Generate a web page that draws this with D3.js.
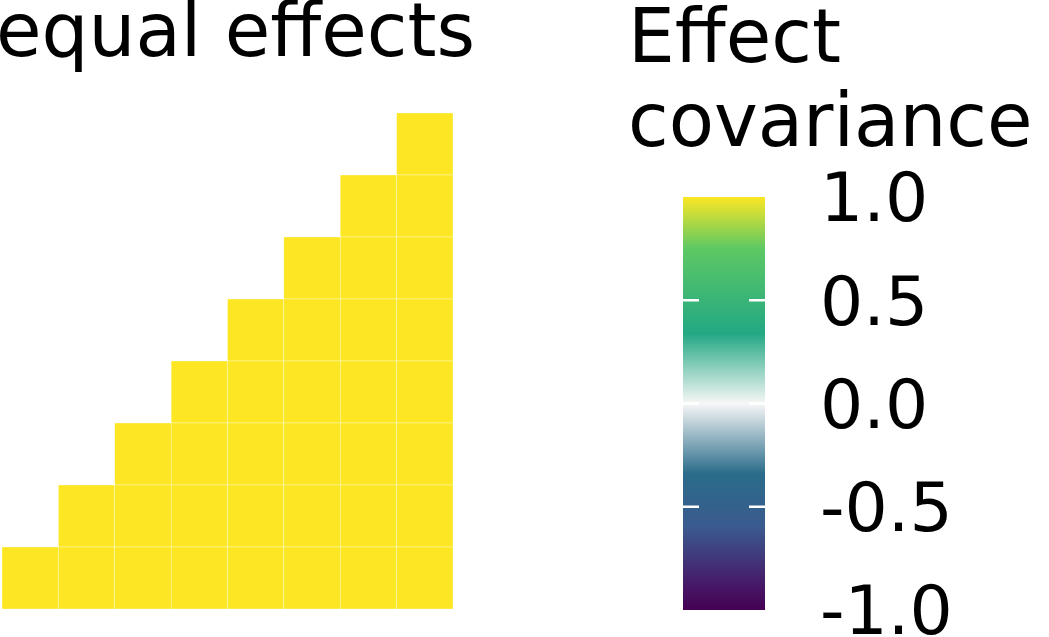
<!DOCTYPE html>
<html><head><meta charset="utf-8">
<script src="https://cdn.jsdelivr.net/npm/d3@7"></script>
<style>body{margin:0;background:#fff}text{font-family:"DejaVu Sans",sans-serif}</style>
</head><body>
<script>
// data: 8 traits, lower triangle, all effects equal
var traits = [1,2,3,4,5,6,7,8];
var covValues = [
  [1],[1,1],[1,1,1],[1,1,1,1],[1,1,1,1,1],[1,1,1,1,1,1],[1,1,1,1,1,1,1],[1,1,1,1,1,1,1,1]
];
var legendTicks = [1.0, 0.5, 0.0, -0.5, -1.0];
var gradStops = [-1, -0.9, -0.6, -0.34, 0, 0.34, 0.75, 1];
var gradColors = ["#440154","#471463","#3B5A8E","#2A6C8A","#F7F7F7","#22A884","#5DC863","#FDE725"];

var W = 1049, H = 637;
var svg = d3.select("body").append("svg").attr("width", W).attr("height", H);

var x = d3.scaleBand().domain(traits).range([2, 453]);
var y = d3.scaleBand().domain(traits).range([113, 609]);
var color = d3.scaleLinear().domain(gradStops).range(gradColors).clamp(true);

var cells = [];
covValues.forEach(function(col, i){
  col.forEach(function(v, k){
    cells.push({col: traits[i], row: traits[8 - col.length + k], v: v});
  });
});
svg.append("g").selectAll("rect").data(cells).enter().append("rect")
  .attr("x", function(d){return x(d.col)})
  .attr("y", function(d){return y(d.row)})
  .attr("width", x.bandwidth()).attr("height", y.bandwidth())
  .attr("fill", function(d){return color(d.v)})
  .attr("stroke", "#fff").attr("stroke-width", 0.3);

svg.append("text").attr("x", -4).attr("y", 56).attr("font-size", 74).text("equal effects");

// legend
svg.append("text").attr("x", 628).attr("y", 62).attr("font-size", 74).text("Effect");
svg.append("text").attr("x", 628).attr("y", 146).attr("font-size", 74).text("covariance");

var ly = d3.scaleLinear().domain([-1, 1]).range([610, 197]);
var defs = svg.append("defs");
var grad = defs.append("linearGradient").attr("id", "cb")
  .attr("x1", 0).attr("y1", 1).attr("x2", 0).attr("y2", 0);
gradStops.forEach(function(s, i){
  grad.append("stop").attr("offset", (s + 1) / 2).attr("stop-color", gradColors[i]);
});
svg.append("rect").attr("x", 683).attr("y", ly(1)).attr("width", 82)
  .attr("height", ly(-1) - ly(1)).attr("fill", "url(#cb)");

var lg = svg.append("g");
legendTicks.forEach(function(t){
  if (Math.abs(t) < 1) {
    lg.append("line").attr("x1", 683).attr("x2", 699).attr("y1", ly(t)).attr("y2", ly(t))
      .attr("stroke", "#fff").attr("stroke-width", 2.5);
    lg.append("line").attr("x1", 749).attr("x2", 765).attr("y1", ly(t)).attr("y2", ly(t))
      .attr("stroke", "#fff").attr("stroke-width", 2.5);
  }
  lg.append("text").attr("x", 820).attr("y", ly(t)).attr("dy", "0.36em")
    .attr("font-size", 68).text(t.toFixed(1));
});
</script>
</body></html>
